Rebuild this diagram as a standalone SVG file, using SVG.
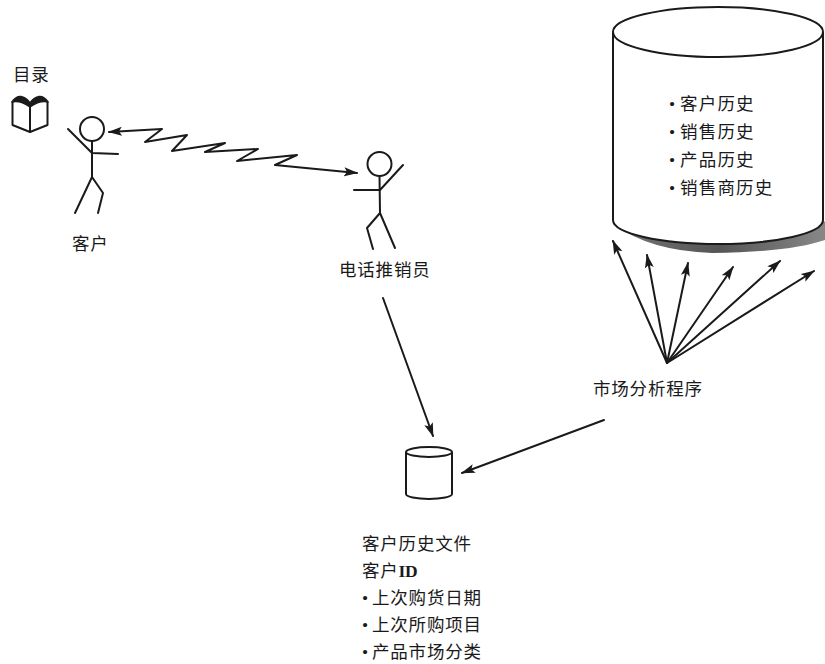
<svg xmlns="http://www.w3.org/2000/svg" width="825" height="664" viewBox="0 0 825 664">
  <style>
    .ln { fill: none; stroke: #1a1a1a; stroke-width: 2; stroke-linecap: round; stroke-linejoin: round; }
    .shape { fill: #ffffff; stroke: #1a1a1a; stroke-width: 2; }
    .lbl { font-family: "Liberation Serif", "Noto Sans CJK SC", serif; font-size: 17.5px; letter-spacing: 0.8px; fill: #1a1a1a; }
  </style>
  <defs>
    <marker id="arrow" markerUnits="userSpaceOnUse" markerWidth="14" markerHeight="10" viewBox="0 0 14 10" refX="13" refY="5" orient="auto-start-reverse">
      <path d="M0,0.5 L14,5 L0,9.5 L3,5 Z" fill="#1a1a1a"/>
    </marker>
    <linearGradient id="shade" x1="0" y1="0" x2="1" y2="0">
      <stop offset="0" stop-color="#777777"/>
      <stop offset="0.5" stop-color="#555555"/>
      <stop offset="1" stop-color="#888888"/>
    </linearGradient>
  </defs>

  <!-- catalog: open book -->
  <g id="catalog">
    <text class="lbl" x="13" y="81">目录</text>
    <path class="ln" d="M12.5,102 L12.5,125 L30,132 L47.5,125 L47.5,102"/>
    <path class="ln" d="M30,106 L30,132"/>
    <!-- page fan along the top edge -->
    <path d="M12,102 Q16,96 21,96.5 Q27,98 30,103 Q33,98 39,96.5 Q44,96 48,102 Q40,100 30,107 Q20,100 12,102 Z" fill="#1a1a1a" stroke="#1a1a1a" stroke-width="1.5" stroke-linejoin="round"/>
  </g>

  <!-- customer stick figure -->
  <g id="customer">
    <circle class="ln" cx="92" cy="129" r="12"/>
    <path class="ln" d="M92,141 L92,177"/>
    <path class="ln" d="M68,129 L92,153 L118,154"/>
    <path class="ln" d="M75,213 L92,177 L103,193 L98,213"/>
    <text class="lbl" x="72" y="250">客户</text>
  </g>

  <!-- telemarketer stick figure -->
  <g id="telemarketer">
    <circle class="ln" cx="379.5" cy="164" r="12"/>
    <path class="ln" d="M379.5,176 L380,213"/>
    <path class="ln" d="M354,190 L380,190 L403,165"/>
    <path class="ln" d="M373,249 L367,228 L380,213 L395,248"/>
    <text class="lbl" x="339" y="276">电话推销员</text>
  </g>

  <!-- history database -->
  <g id="history-db">
    <path d="M613,220 A105,24 0 0 0 823,220 L825,222 L825,240 Q790,252 712,253 Q650,251 613,224 Z" fill="url(#shade)"/>
    <path class="shape" d="M613,32 L613,220 A105,24 0 0 0 823,220 L823,32"/>
    <ellipse class="shape" cx="718" cy="32" rx="105" ry="25"/>
    <text class="lbl" y="110"><tspan x="669">•</tspan><tspan x="680" letter-spacing="1.2">客户历史</tspan></text>
    <text class="lbl" y="138"><tspan x="669">•</tspan><tspan x="680" letter-spacing="1.2">销售历史</tspan></text>
    <text class="lbl" y="166"><tspan x="669">•</tspan><tspan x="680" letter-spacing="1.2">产品历史</tspan></text>
    <text class="lbl" y="194"><tspan x="669">•</tspan><tspan x="680" letter-spacing="1.2">销售商历史</tspan></text>
  </g>

  <!-- market analysis program -->
  <g id="market-analysis">
    <text class="lbl" x="593" y="395">市场分析程序</text>
  </g>

  <!-- customer history file -->
  <g id="customer-file">
    <path class="shape" d="M406,452 L406,494 A23,5 0 0 0 452,494 L452,452"/>
    <ellipse class="shape" cx="429" cy="452" rx="23" ry="5"/>
    <text class="lbl" x="362" y="550">客户历史文件</text>
    <text class="lbl" x="362" y="577">客户<tspan font-weight="bold" letter-spacing="-0.5">ID</tspan></text>
    <text class="lbl" y="604"><tspan x="362">•</tspan><tspan x="372">上次购货日期</tspan></text>
    <text class="lbl" y="631"><tspan x="362">•</tspan><tspan x="372">上次所购项目</tspan></text>
    <text class="lbl" y="658"><tspan x="362">•</tspan><tspan x="372">产品市场分类</tspan></text>
  </g>

  <!-- connectors -->
  <g id="connectors" class="ln">
    <path d="M109,132 L162,129 L145,142 L187,135 L172,151 L225,143 L205,152 L258,149 L237,161 L297,155 L275,165 L357,173" marker-start="url(#arrow)" marker-end="url(#arrow)"/>
    <path d="M383,298 L433,436" marker-end="url(#arrow)"/>
    <path d="M604,420 L462,473" marker-end="url(#arrow)"/>
    <path d="M667,363 L613,241" marker-end="url(#arrow)"/>
    <path d="M667,363 L647,255" marker-end="url(#arrow)"/>
    <path d="M667,363 L688,263" marker-end="url(#arrow)"/>
    <path d="M667,363 L733,267" marker-end="url(#arrow)"/>
    <path d="M667,363 L780,261" marker-end="url(#arrow)"/>
    <path d="M667,363 L814,271" marker-end="url(#arrow)"/>
  </g>
</svg>
